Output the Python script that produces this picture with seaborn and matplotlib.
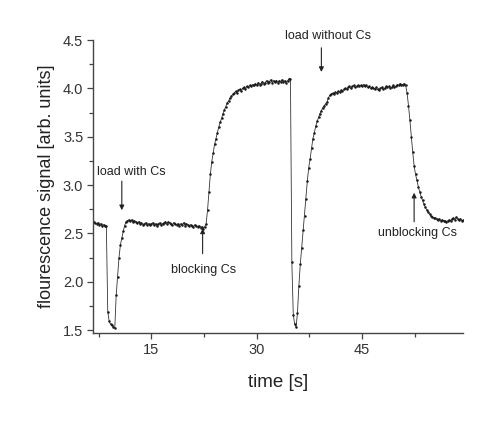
import numpy as np
import pandas as pd
import matplotlib
matplotlib.use("Agg")
import matplotlib.pyplot as plt
from matplotlib.ticker import MultipleLocator
import seaborn as sns

# time axis: samples every 0.2 s starting at 6.8 s
T_START = 6.8
T_STEP = 0.2

# fluorescence signal [arb. units] (10 samples per row = 2 s)
signal = [
    2.62, 2.61, 2.60, 2.61, 2.59, 2.60, 2.58, 2.59, 2.58, 2.58,
    1.69, 1.59, 1.56, 1.55, 1.53, 1.52, 1.86, 2.05, 2.25, 2.38,
    2.45, 2.52, 2.58, 2.62, 2.63, 2.64, 2.63, 2.64, 2.62, 2.63,
    2.62, 2.61, 2.62, 2.60, 2.61, 2.59, 2.60, 2.61, 2.59, 2.60,
    2.59, 2.60, 2.61, 2.59, 2.60, 2.58, 2.60, 2.61, 2.59, 2.60,
    2.61, 2.62, 2.60, 2.62, 2.61, 2.60, 2.59, 2.61, 2.60, 2.59,
    2.60, 2.58, 2.60, 2.59, 2.61, 2.58, 2.60, 2.59, 2.58, 2.59,
    2.58, 2.57, 2.59, 2.58, 2.57, 2.58, 2.56, 2.57, 2.55, 2.57,
    2.60, 2.74, 2.93, 3.11, 3.24, 3.33, 3.42, 3.48, 3.54, 3.60,
    3.65, 3.69, 3.74, 3.78, 3.81, 3.85, 3.87, 3.90, 3.92, 3.94,
    3.95, 3.97, 3.95, 3.98, 3.99, 3.97, 4.00, 4.01, 3.99, 4.02,
    4.01, 4.03, 4.02, 4.04, 4.03, 4.05, 4.03, 4.06, 4.04, 4.05,
    4.07, 4.05, 4.06, 4.08, 4.06, 4.07, 4.09, 4.06, 4.08, 4.07,
    4.08, 4.06, 4.08, 4.07, 4.09, 4.07, 4.08, 4.06, 4.08, 4.10,
    4.10, 2.20, 1.66, 1.56, 1.53, 1.68, 1.96, 2.18, 2.35, 2.53,
    2.68, 2.86, 3.04, 3.18, 3.27, 3.38, 3.48, 3.54, 3.61, 3.66,
    3.70, 3.74, 3.77, 3.80, 3.82, 3.84, 3.86, 3.90, 3.93, 3.94,
    3.95, 3.94, 3.96, 3.95, 3.97, 3.96, 3.98, 3.97, 3.99, 4.00,
    3.99, 4.01, 4.02, 4.00, 4.02, 4.03, 4.01, 4.02, 4.03, 4.02,
    4.03, 4.02, 4.04, 4.02, 4.03, 4.01, 4.02, 4.00, 4.01, 4.00,
    3.99, 4.01, 3.99, 3.98, 4.00, 4.01, 3.99, 4.00, 4.02, 4.01,
    4.02, 4.00, 4.01, 4.03, 4.01, 4.02, 4.04, 4.03, 4.05, 4.04,
    4.04, 4.05, 4.03, 3.95, 3.82, 3.67, 3.50, 3.34, 3.20, 3.11,
    3.05, 2.98, 2.93, 2.88, 2.84, 2.80, 2.77, 2.74, 2.72, 2.70,
    2.68, 2.67, 2.66, 2.66, 2.65, 2.64, 2.65, 2.63, 2.64, 2.63,
    2.63, 2.62, 2.63, 2.64, 2.63, 2.65, 2.66, 2.64, 2.67, 2.65,
    2.64, 2.65, 2.63, 2.64,
]

# annotations: label, text position (t, y), arrow tail (t, y), arrow tip (t, y)
ann_labels = ["load with Cs", "blocking Cs", "load without Cs", "unblocking Cs"]
ann_text_pos = [(12.1, 3.13), (22.4, 2.12), (40.1, 4.54), (52.9, 2.50)]
ann_tail = [(10.8, 3.04), (22.3, 2.29), (39.2, 4.42), (52.4, 2.62)]
ann_tip = [(10.8, 2.74), (22.3, 2.55), (39.2, 4.17), (52.4, 2.92)]

df = pd.DataFrame({
    "time": np.round(T_START + T_STEP * np.arange(len(signal)), 2),
    "signal": signal,
})

sns.set_style("ticks")
plt.rcParams["font.family"] = ["Liberation Sans", "DejaVu Sans"]

fig = plt.figure(figsize=(4.91, 4.26), dpi=100)
ax = fig.add_axes([0.1894, 0.2176, 0.7542, 0.6884])

sns.lineplot(data=df, x="time", y="signal", ax=ax, color="#333333", lw=0.6,
             marker="o", markersize=1.8, markeredgewidth=0, markerfacecolor="#1a1a1a")

ax.set_xlim(6.7, 59.4)
ax.set_ylim(1.466, 4.5)
ax.xaxis.set_major_locator(MultipleLocator(15))
ax.xaxis.set_minor_locator(MultipleLocator(7.5))
ax.yaxis.set_major_locator(MultipleLocator(0.5))
ax.yaxis.set_minor_locator(MultipleLocator(0.25))
ax.yaxis.set_major_formatter(matplotlib.ticker.FormatStrFormatter("%.1f"))

for s in ["top", "right"]:
    ax.spines[s].set_visible(False)
for s in ["left", "bottom"]:
    ax.spines[s].set_color("#444444")
    ax.spines[s].set_linewidth(1.0)
ax.tick_params(which="major", direction="out", length=4, width=0.9, color="#444444",
               labelsize=10.5, labelcolor="#333333", pad=3)
ax.tick_params(which="minor", direction="out", length=3, width=0.9, color="#444444")

ax.set_xlabel("time [s]", fontsize=13.5, color="#222222", labelpad=12)
ax.set_ylabel("flourescence signal [arb. units]", fontsize=13, color="#222222", labelpad=6)

for lab, tp, tail, tip in zip(ann_labels, ann_text_pos, ann_tail, ann_tip):
    ax.text(tp[0], tp[1], lab, fontsize=9, color="#222222", ha="center", va="center",
            clip_on=False)
    ax.annotate("", xy=tip, xytext=tail, annotation_clip=False,
                arrowprops=dict(arrowstyle="-|>", color="#222222", lw=0.8,
                                mutation_scale=7, shrinkA=0, shrinkB=0))

fig.savefig("out.png", dpi=100)
